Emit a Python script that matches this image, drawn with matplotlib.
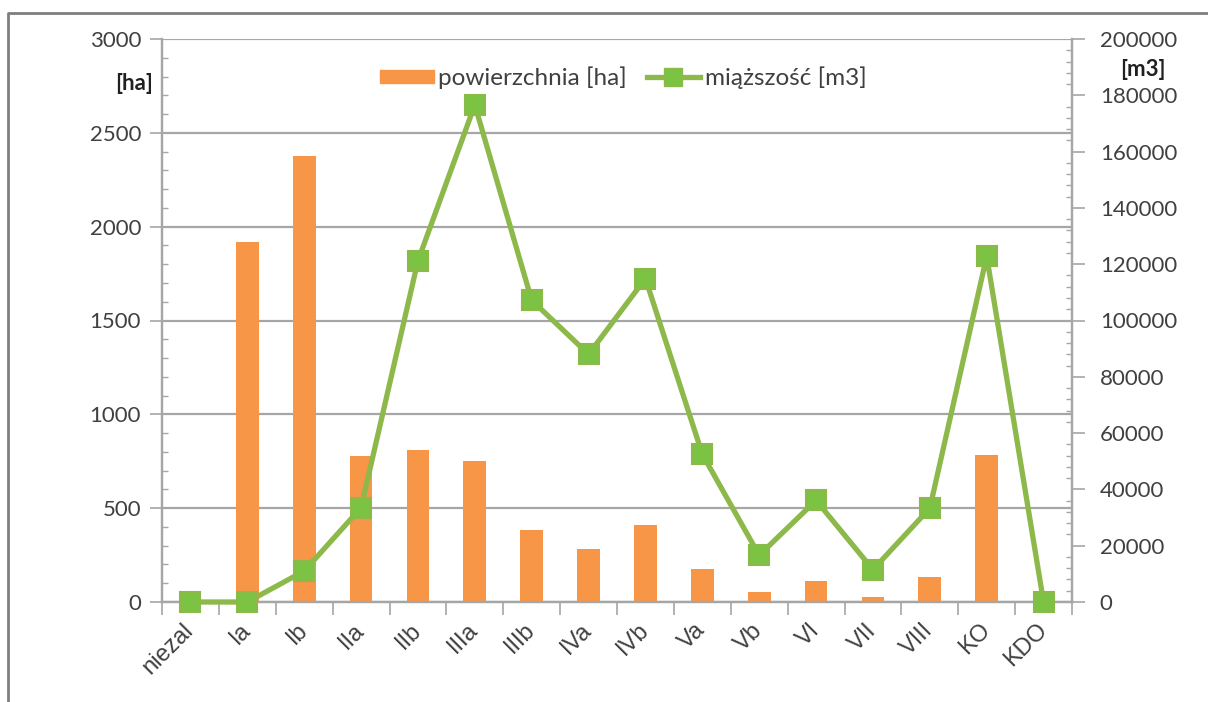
import numpy as np
import matplotlib
matplotlib.use("Agg")
import matplotlib.pyplot as plt
from matplotlib.ticker import MultipleLocator
from matplotlib.lines import Line2D
from matplotlib.patches import Patch

# dane
klasy = ['niezal', 'Ia', 'Ib', 'IIa', 'IIb', 'IIIa', 'IIIb', 'IVa', 'IVb',
         'Va', 'Vb', 'VI', 'VII', 'VIII', 'KO', 'KDO']
powierzchnia = [0, 1920, 2378, 776, 808, 753, 382, 280, 412,
                178, 53, 110, 29, 131, 784, 0]
miazszosc = [0, 0, 11000, 33500, 121200, 176600, 107200, 88000, 114900,
             52500, 16600, 36100, 11500, 33300, 122800, 0]

kolor_slupki = '#F79646'
kolor_linia = '#8DB84A'
kolor_marker = '#7CC243'
kolor_tekst = '#404040'
kolor_siatka = '#A6A6A6'

plt.rcParams['font.family'] = ['Lato', 'DejaVu Sans']

fig = plt.figure(figsize=(12.08, 7.02), dpi=100)
ax = fig.add_axes([162 / 1208, 1 - 602 / 702, (1072 - 162) / 1208, (602 - 39) / 702])
ax2 = ax.twinx()

x = np.arange(len(klasy))
ax.bar(x, powierzchnia, width=0.4, color=kolor_slupki, zorder=3)
ax2.plot(x, miazszosc, color=kolor_linia, lw=3.8, marker='s', markersize=15,
         markerfacecolor=kolor_marker, markeredgecolor=kolor_linia,
         markeredgewidth=1.5, zorder=4, clip_on=False)

ax.set_xlim(-0.5, len(klasy) - 0.5)
ax.set_ylim(0, 3000)
ax2.set_ylim(0, 200000)

# osie
ax.yaxis.set_major_locator(MultipleLocator(500))
ax.yaxis.set_minor_locator(MultipleLocator(100))
ax2.yaxis.set_major_locator(MultipleLocator(20000))
ax2.yaxis.set_minor_locator(MultipleLocator(4000))
ax.grid(axis='y', color=kolor_siatka, lw=1.6, zorder=0)
ax.set_axisbelow(True)

ax.set_xticks(x)
ax.set_xticklabels(klasy, rotation=45, ha='right', va='center', rotation_mode='anchor',
                   fontsize=17, color=kolor_tekst, family='Liberation Sans')
ax.set_xticks(np.arange(-0.5, len(klasy)), minor=True)
ax.tick_params(axis='x', which='major', length=0, pad=18)
ax.tick_params(axis='x', which='minor', length=9, color=kolor_siatka, width=1.2)

ax.tick_params(axis='y', which='major', direction='out', length=9, width=1.2,
               color=kolor_siatka, labelsize=16, labelcolor=kolor_tekst, pad=6)
ax.tick_params(axis='y', which='minor', direction='in', length=4, width=1,
               color=kolor_siatka)
ax2.tick_params(axis='y', which='major', direction='out', length=9, width=1.2,
                color=kolor_siatka, labelsize=16, labelcolor=kolor_tekst, pad=11)
ax2.tick_params(axis='y', which='minor', direction='in', length=4, width=1,
                color=kolor_siatka)

for a in (ax, ax2):
    a.spines['top'].set_visible(False)
    for s in ('left', 'right', 'bottom'):
        a.spines[s].set_color(kolor_siatka)
        a.spines[s].set_linewidth(1.6)

# jednostki
fig.text(153 / 1208, 1 - 84 / 702, '[ha]', ha='right', va='center',
         fontsize=16, fontweight='bold', color='#202020')
fig.text(1143 / 1208, 1 - 70 / 702, '[m3]', ha='center', va='center',
         fontsize=16, fontweight='bold', color='#202020')

# legenda
uchwyty = [Patch(color=kolor_slupki, label='powierzchnia [ha]'),
           Line2D([], [], color=kolor_linia, lw=3.8, marker='s', markersize=13,
                  markerfacecolor=kolor_marker, markeredgecolor=kolor_linia,
                  label='miąższość [m3]')]
leg = ax2.legend(handles=uchwyty, loc='upper center', bbox_to_anchor=(0.507, 0.99),
                 ncol=2, frameon=False, fontsize=17.5, handlelength=2.2,
                 handleheight=0.5, columnspacing=0.8, handletextpad=0.2)
for t in leg.get_texts():
    t.set_color(kolor_tekst)

# ramka wykresu
fig.add_artist(Line2D([8 / 1208, 8 / 1208, 1.0], [0.0, 1 - 13 / 702, 1 - 13 / 702],
                      transform=fig.transFigure, color='#7F7F7F', lw=2))

fig.savefig('out.png', dpi=100)
